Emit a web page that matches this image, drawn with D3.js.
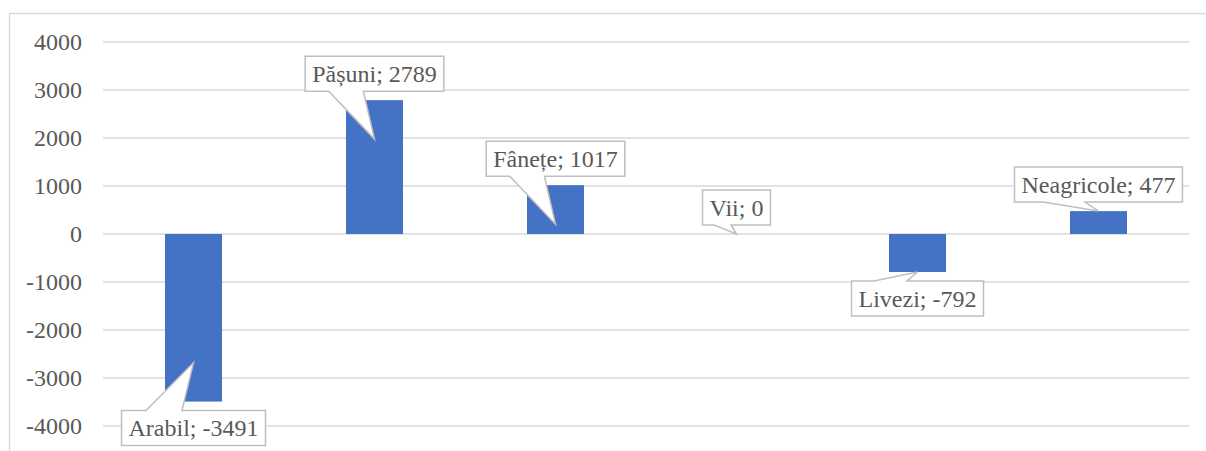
<!DOCTYPE html>
<html><head><meta charset="utf-8">
<script src="https://cdn.jsdelivr.net/npm/d3@7"></script>
<style>html,body{margin:0;padding:0;background:#fff;} svg{display:block;}</style>
</head><body>
<svg id="chart" width="1206" height="451"></svg>
<script>
// Land-use change by category
const categories = ["Arabil", "Pășuni", "Fânețe", "Vii", "Livezi", "Neagricole"];
const values = [-3491, 2789, 1017, 0, -792, 477];
const yTicks = [-4000, -3000, -2000, -1000, 0, 1000, 2000, 3000, 4000];
// how far each callout pointer reaches back into its bar (px)
const tipInset = [39, 39, 39, 0, 0, 0];

const W = 1206, H = 451;
const plot = { left: 103, right: 1189, top: 42, bottom: 426 };
const font = "'Liberation Serif', 'Times New Roman', serif";

const svg = d3.select("#chart");

// outer frame (top and left edges visible)
svg.append("path")
  .attr("d", `M9.5,${H} L9.5,13.5 L${W},13.5`)
  .attr("fill", "none").attr("stroke", "#d9d9d9").attr("stroke-width", 1.3);

const x = d3.scaleBand().domain(categories)
  .range([plot.left, plot.right])
  .paddingInner(0.685).paddingOuter(0.3425);
const y = d3.scaleLinear().domain([-4000, 4000]).range([plot.bottom, plot.top]);

// gridlines
svg.append("g").selectAll("line").data(yTicks).join("line")
  .attr("x1", plot.left).attr("x2", plot.right)
  .attr("y1", d => y(d)).attr("y2", d => y(d))
  .attr("stroke", "#d9d9d9").attr("stroke-width", 1.3);

// y axis labels (plain hyphen for negatives)
const yAxis = d3.axisLeft(y).tickValues(yTicks).tickSize(0).tickPadding(0).tickFormat(d => String(d));
const ga = svg.append("g").attr("transform", "translate(82,0)").call(yAxis);
ga.select(".domain").remove();
ga.selectAll("text")
  .attr("font-family", font).attr("font-size", 24).attr("fill", "#595959")
  .attr("dy", "0.33em");

// bars
const data = categories.map((c, i) => ({ c, v: values[i], inset: tipInset[i] }));
svg.append("g").selectAll("rect").data(data).join("rect")
  .attr("x", d => x(d.c))
  .attr("width", x.bandwidth())
  .attr("y", d => Math.min(y(d.v), y(0)))
  .attr("height", d => Math.abs(y(d.v) - y(0)))
  .attr("fill", "#4472c4");

// data callouts
const boxH = 35, padX = 7, gap = 9;
const cg = svg.append("g");
data.forEach(d => {
  const cx = x(d.c) + x.bandwidth() / 2;
  const end = y(d.v);
  const below = d.v < 0;
  const g = cg.append("g");
  const path = g.append("path");
  const t = g.append("text")
    .attr("font-family", font).attr("font-size", 24).attr("fill", "#595959")
    .attr("text-anchor", "middle")
    .text(`${d.c}; ${d.v}`);
  const tw = t.node().getComputedTextLength();
  const bw = tw + 2 * padX;
  const x0 = cx - bw / 2, x1 = cx + bw / 2;
  const y0 = below ? end + gap : end - gap - boxH;
  const y1 = y0 + boxH;
  t.attr("x", cx).attr("y", y0 + boxH / 2 + 8);
  const bL = x0 + bw * 0.17, bR = x0 + bw * 0.42;
  const tipX = cx, tipY = below ? end - d.inset : end + d.inset;
  let p;
  if (below) {
    p = `M${x0},${y0} L${bL},${y0} L${tipX},${tipY} L${bR},${y0} L${x1},${y0} L${x1},${y1} L${x0},${y1} Z`;
  } else {
    p = `M${x0},${y0} L${x1},${y0} L${x1},${y1} L${bR},${y1} L${tipX},${tipY} L${bL},${y1} L${x0},${y1} Z`;
  }
  path.attr("d", p).attr("fill", "#fff").attr("stroke", "#bfbfbf").attr("stroke-width", 1.5);
});
</script>
</body></html>
